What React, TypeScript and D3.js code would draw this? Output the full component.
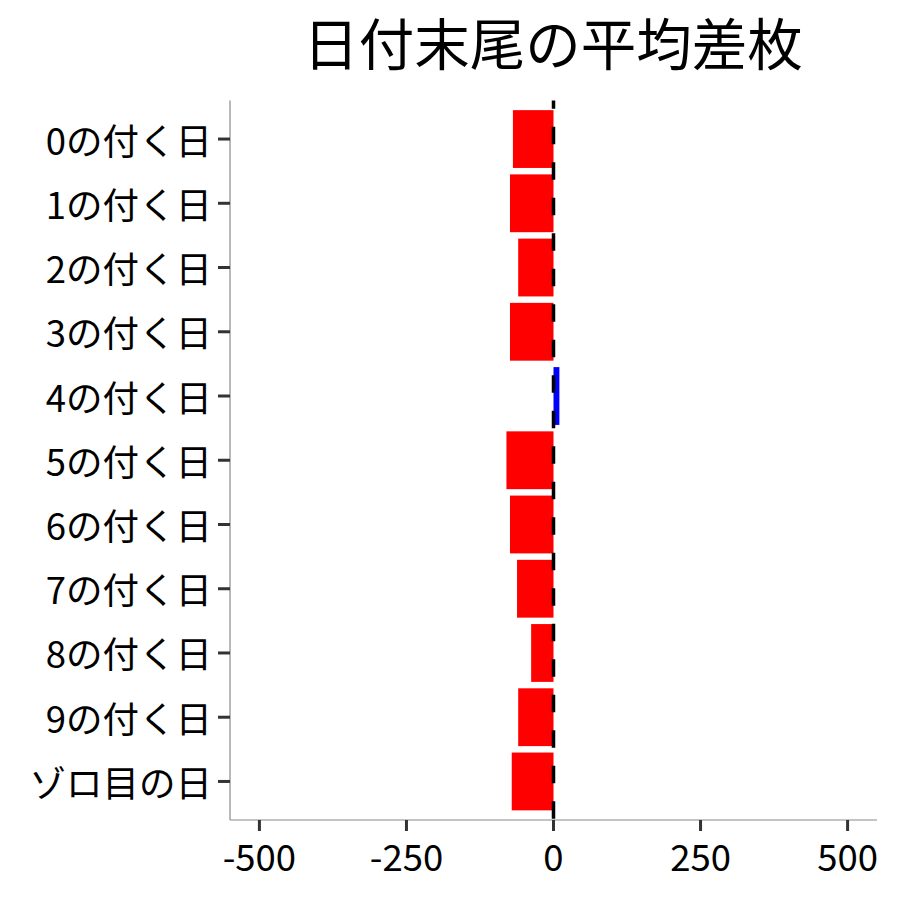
import React from "react";
import * as d3 from "d3";

const categories = ["0の付く日","1の付く日","2の付く日","3の付く日","4の付く日","5の付く日","6の付く日","7の付く日","8の付く日","9の付く日","ゾロ目の日"];
const values = [-69, -74, -60, -74, 10, -80, -74, -62, -38, -60, -71];
const xTicks = [-500, -250, 0, 250, 500];
const title = "日付末尾の平均差枚";

const W = 900, H = 900;
const left = 230, right = 877, top = 100.5, bottom = 820;
const font = "'Noto Sans CJK JP', 'Noto Sans', sans-serif";

export default function App() {
  const x = d3.scaleLinear().domain([-550, 550]).range([left, right]);
  const y = d3.scalePoint<string>().domain(categories).range([top, bottom]).padding(0.6);
  const step = y.step();
  const bh = step * 0.9;
  return (
    <svg width={W} height={H} style={{ position: "absolute", left: 0, top: 0 }} fontFamily={font}>
      <rect width={W} height={H} fill="#fff" />
      <text x={553} y={65} textAnchor="middle" fontSize={55.5} fill="#000">{title}</text>
      {categories.map((c, i) => {
        const v = values[i];
        const x0 = x(Math.min(0, v)), x1 = x(Math.max(0, v));
        return <rect key={c} x={x0} y={(y(c) as number) - bh / 2} width={x1 - x0} height={bh} fill={v < 0 ? "#FF0000" : "#0000FF"} />;
      })}
      <line x1={x(0)} x2={x(0)} y1={top} y2={bottom} stroke="#000" strokeWidth={3.5} strokeDasharray="17.5 18" strokeDashoffset={9.3} />
      <line x1={left} x2={left} y1={top} y2={bottom} stroke="#8a8a8a" strokeWidth={1.2} />
      <line x1={left} x2={right} y1={bottom} y2={bottom} stroke="#8a8a8a" strokeWidth={1.2} />
      {categories.map((c) => (
        <g key={c}>
          <line x1={218} x2={left} y1={y(c)} y2={y(c)} stroke="#333" strokeWidth={3} />
          <text x={212} y={y(c)} textAnchor="end" dominantBaseline="central" fontSize={36.5} fill="#000">{c}</text>
        </g>
      ))}
      {xTicks.map((t) => (
        <g key={t}>
          <line x1={x(t)} x2={x(t)} y1={bottom} y2={831} stroke="#333" strokeWidth={3} />
          <text x={x(t)} y={855} textAnchor="middle" dominantBaseline="central" fontSize={36.5} fill="#000">{t}</text>
        </g>
      ))}
    </svg>
  );
}
